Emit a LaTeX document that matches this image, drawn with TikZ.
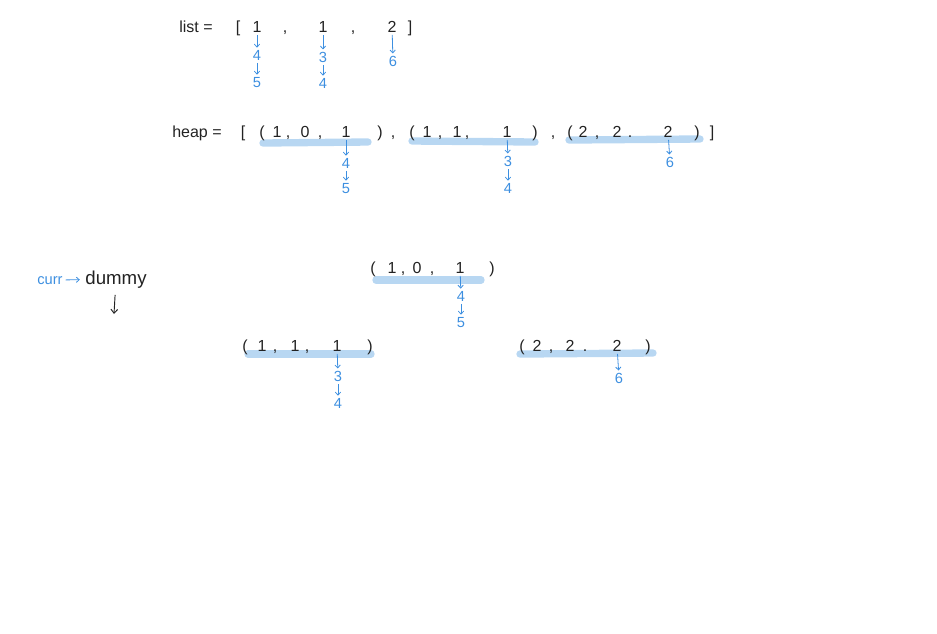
\documentclass[tikz,border=0pt]{standalone}
\usepackage{fontspec}
\setmainfont{Liberation Sans}
\usetikzlibrary{arrows.meta}
\definecolor{pen}{HTML}{222222}
\definecolor{ink}{HTML}{3D8FE0}
\definecolor{hl}{HTML}{B8D7F2}
\begin{document}
\begin{tikzpicture}[x=0.75pt,y=-0.75pt,
  t/.style={text=pen,font=\fontsize{12}{14}\selectfont,inner sep=0pt,anchor=base},
  b/.style={text=ink,font=\fontsize{11}{13}\selectfont,inner sep=0pt,anchor=base},
  ba/.style={draw=ink,line width=0.6pt,-{Straight Barb[length=2.2pt,width=4pt]},shorten <=2pt,shorten >=1.5pt},
  ka/.style={draw=pen,line width=0.7pt,-{Straight Barb[length=3pt,width=5pt]},shorten <=5pt},
  bar/.style={draw=hl,line width=5.5pt,line cap=round}]
\useasboundingbox (0,0) rectangle (937,633);
% highlight bars
\draw[bar] (263,143) -- (368,142);
\draw[bar] (412,141) -- (535,142);
\draw[bar] (569,140) -- (700,139);
\draw[bar] (376,280) -- (481,280);
\draw[bar] (248,354) -- (371,354);
\draw[bar] (520,354) -- (653,353);
% row 1: list
\node[t] (lst) at (196,32) {list =};
\node[t] (lb) at (238,32) {[};
\node[t] (a1) at (257,32) {1};
\node[t] (c1) at (285,32) {,};
\node[t] (a2) at (323,32) {1};
\node[t] (c2) at (353,32) {,};
\node[t] (a3) at (392,32) {2};
\node[t] (rb) at (410,32) {]};
\node[b] (a1x) at (257,60) {4};
\node[b] (a1y) at (257,87) {5};
\node[b] (a2x) at (323,62) {3};
\node[b] (a2y) at (323,88) {4};
\node[b] (a3x) at (393,66) {6};
\draw[ba] (a1) -- (a1x);
\draw[ba] (a1x) -- (a1y);
\draw[ba] (a2) -- (a2x);
\draw[ba] (a2x) -- (a2y);
\draw[ba] (a3) -- (a3x);
% row 2: heap
\node[t] (hp) at (197,137) {heap =};
\node[t] (hb) at (243,137) {[};
\node[t] (p1) at (262,137) {(};
\node[t] (h11) at (277,137) {1};
\node[t] (h1c1) at (288,137) {,};
\node[t] (h12) at (305,137) {0};
\node[t] (h1c2) at (320,137) {,};
\node[t] (h13) at (346,137) {1};
\node[t] (q1) at (380,137) {)};
\node[t] (hc1) at (393,137) {,};
\node[t] (p2) at (412,137) {(};
\node[t] (h21) at (427,137) {1};
\node[t] (h2c1) at (440,137) {,};
\node[t] (h22) at (457,137) {1};
\node[t] (h2c2) at (467,137) {,};
\node[t] (h23) at (507,137) {1};
\node[t] (q2) at (535,137) {)};
\node[t] (hc2) at (553,137) {,};
\node[t] (p3) at (570,137) {(};
\node[t] (h31) at (583,137) {2};
\node[t] (h3c1) at (597,137) {,};
\node[t] (h32) at (617,137) {2};
\node[t] (h3c2) at (630,137) {.};
\node[t] (h33) at (668,137) {2};
\node[t] (q3) at (697,137) {)};
\node[t] (hr) at (712,137) {]};
\node[b] (h13x) at (346,168) {4};
\node[b] (h13y) at (346,193) {5};
\node[b] (h23x) at (508,166) {3};
\node[b] (h23y) at (508,193) {4};
\node[b] (h33x) at (670,167) {6};
\draw[ba] (h13) -- (h13x);
\draw[ba] (h13x) -- (h13y);
\draw[ba] (h23) -- (h23x);
\draw[ba] (h23x) -- (h23y);
\draw[ba] (h33) -- (h33x);
% row 3: curr -> dummy
\node[b] (curr) at (50,284) {curr};
\node[t,font=\fontsize{14}{16}\selectfont] (dummy) at (116,284) {dummy};
\draw[ba,shorten <=2pt,shorten >=4pt] (curr) -- (dummy);
\coordinate (dn) at (114,314);
\draw[ka] (dummy) -- (dn);
% tree nodes
\node[t] (r0) at (373,273) {(};
\node[t] (r1) at (392,273) {1};
\node[t] (rc1) at (403,273) {,};
\node[t] (r2) at (417,273) {0};
\node[t] (rc2) at (432,273) {,};
\node[t] (r3) at (460,273) {1};
\node[t] (r4) at (492,273) {)};
\node[b] (r3x) at (461,301) {4};
\node[b] (r3y) at (461,327) {5};
\draw[ba] (r3) -- (r3x);
\draw[ba] (r3x) -- (r3y);
\node[t] (l0) at (245,351) {(};
\node[t] (l1) at (262,351) {1};
\node[t] (lc1) at (275,351) {,};
\node[t] (l2) at (295,351) {1};
\node[t] (lc2) at (307,351) {,};
\node[t] (l3) at (337,351) {1};
\node[t] (l4) at (370,351) {)};
\node[b] (l3x) at (338,381) {3};
\node[b] (l3y) at (338,408) {4};
\draw[ba] (l3) -- (l3x);
\draw[ba] (l3x) -- (l3y);
\node[t] (m0) at (522,351) {(};
\node[t] (m1) at (537,351) {2};
\node[t] (mc1) at (551,351) {,};
\node[t] (m2) at (570,351) {2};
\node[t] (mc2) at (585,351) {.};
\node[t] (m3) at (617,351) {2};
\node[t] (m4) at (648,351) {)};
\node[b] (m3x) at (619,383) {6};
\draw[ba] (m3) -- (m3x);
\end{tikzpicture}
\end{document}
